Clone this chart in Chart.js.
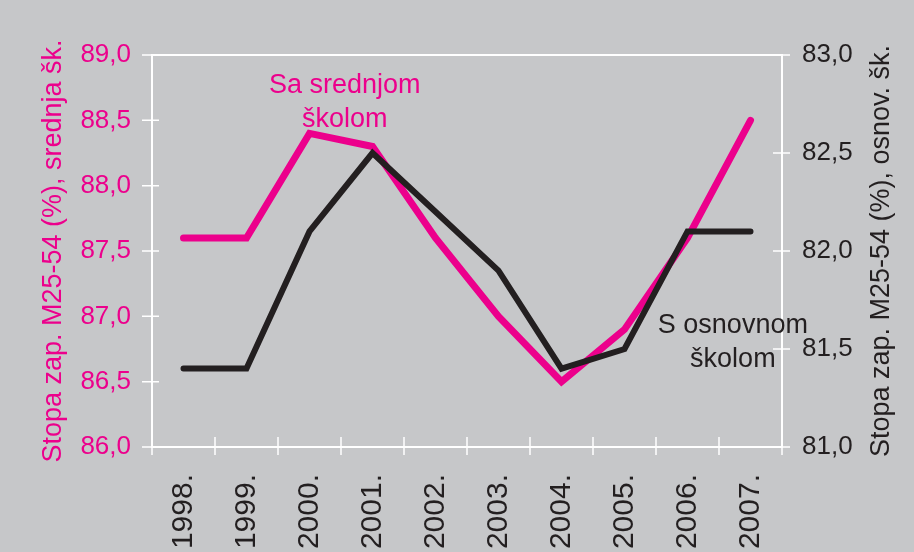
<!DOCTYPE html>
<html>
<head>
<meta charset="utf-8">
<script src="https://cdn.jsdelivr.net/npm/chart.js@4.4.1/dist/chart.umd.min.js"></script>
<style>
  body { margin: 0; background: #c6c7c9; }
  canvas { display: block; }
</style>
</head>
<body>
<canvas id="chart" width="914" height="552"></canvas>
<script>
  const years = ["1998.", "1999.", "2000.", "2001.", "2002.", "2003.", "2004.", "2005.", "2006.", "2007."];
  const srednja = [87.6, 87.6, 88.4, 88.3, 87.6, 87.0, 86.5, 86.9, 87.6, 88.5];
  const osnovna = [81.4, 81.4, 82.1, 82.5, 82.2, 81.9, 81.4, 81.5, 82.1, 82.1];

  const pink = "#ec008c";
  const dark = "#231f20";
  const font = "'Liberation Sans', Arial, sans-serif";

  const comma = (v) => v.toFixed(1).replace(".", ",");

  // white frame, tick marks, right title and the two labels
  const extras = {
    id: "extras",
    beforeDatasetsDraw(chart) {
      const { ctx, chartArea: a } = chart;
      const sx = chart.scales.x, sy = chart.scales.y, sy1 = chart.scales.y1;
      ctx.save();
      ctx.strokeStyle = "#ffffff";
      ctx.lineWidth = 2;
      ctx.strokeRect(a.left, a.top, a.right - a.left, a.bottom - a.top);
      ctx.lineWidth = 1.5;
      ctx.beginPath();
      sy.ticks.forEach((t) => {
        const y = sy.getPixelForValue(t.value);
        ctx.moveTo(a.left - 10, y); ctx.lineTo(a.left + 7, y);
      });
      sy1.ticks.forEach((t) => {
        const y = sy1.getPixelForValue(t.value);
        ctx.moveTo(a.right - 9, y); ctx.lineTo(a.right + 8, y);
      });
      for (let i = 0; i <= years.length; i++) {
        const x = sx.getPixelForValue(i - 0.5);
        ctx.moveTo(x, a.bottom - 10); ctx.lineTo(x, a.bottom + 8);
      }
      ctx.stroke();
      ctx.restore();
    },
    afterDraw(chart) {
      const { ctx, chartArea: a } = chart;
      const sx = chart.scales.x, sy = chart.scales.y, sy1 = chart.scales.y1;
      ctx.save();
      ctx.font = "27px " + font;
      ctx.fillStyle = dark;
      ctx.textAlign = "center";
      ctx.textBaseline = "middle";
      ctx.translate(882, (a.top + a.bottom) / 2);
      ctx.rotate(-Math.PI / 2);
      ctx.fillText("Stopa zap. M25-54 (%), osnov. šk.", 0, 0);
      ctx.restore();

      ctx.save();
      ctx.font = "27px " + font;
      ctx.textAlign = "center";
      ctx.textBaseline = "alphabetic";
      ctx.fillStyle = pink;
      let x = sx.getPixelForValue(2.56);
      ctx.fillText("Sa srednjom", x, sy.getPixelForValue(88.71));
      ctx.fillText("školom", x, sy.getPixelForValue(88.45));
      ctx.fillStyle = dark;
      x = sx.getPixelForValue(8.72);
      ctx.fillText("S osnovnom", x, sy1.getPixelForValue(81.58));
      ctx.fillText("školom", x, sy1.getPixelForValue(81.41));
      ctx.restore();
    },
  };

  new Chart(document.getElementById("chart"), {
    type: "line",
    data: {
      labels: years,
      datasets: [
        {
          label: "Sa srednjom školom",
          data: srednja,
          borderColor: pink,
          borderWidth: 7,
          borderCapStyle: "round",
          pointRadius: 0,
          yAxisID: "y",
          order: 2,
        },
        {
          label: "S osnovnom školom",
          data: osnovna,
          borderColor: dark,
          borderWidth: 6,
          borderCapStyle: "round",
          pointRadius: 0,
          yAxisID: "y1",
          order: 1,
        },
      ],
    },
    options: {
      responsive: false,
      devicePixelRatio: 1,
      animation: false,
      layout: { padding: { top: 55, left: 0, right: 0, bottom: 0 } },
      plugins: { legend: { display: false }, tooltip: { enabled: false } },
      scales: {
        x: {
          type: "category",
          offset: true,
          grid: { display: false, drawTicks: false },
          border: { display: false },
          ticks: {
            color: dark,
            font: { family: font, size: 30 },
            minRotation: 90,
            maxRotation: 90,
            padding: 27,
            autoSkip: false,
          },
          afterFit: (s) => { s.height = 105; },
        },
        y: {
          position: "left",
          min: 86,
          max: 89,
          grid: { display: false, drawTicks: false },
          border: { display: false },
          ticks: {
            stepSize: 0.5,
            color: pink,
            font: { family: font, size: 26 },
            padding: 21,
            callback: (v) => comma(v),
          },
          title: {
            display: true,
            text: "Stopa zap. M25-54 (%), srednja šk.",
            color: pink,
            font: { family: font, size: 27 },
            padding: { top: 37, bottom: 0 },
          },
          afterFit: (s) => { s.width = 152; },
        },
        y1: {
          position: "right",
          min: 81,
          max: 83,
          grid: { display: false, drawTicks: false },
          border: { display: false },
          ticks: {
            stepSize: 0.5,
            color: dark,
            font: { family: font, size: 26 },
            padding: 20,
            callback: (v) => comma(v),
          },
          afterFit: (s) => { s.width = 132; },
        },
      },
    },
    plugins: [extras],
  });
</script>
</body>
</html>
